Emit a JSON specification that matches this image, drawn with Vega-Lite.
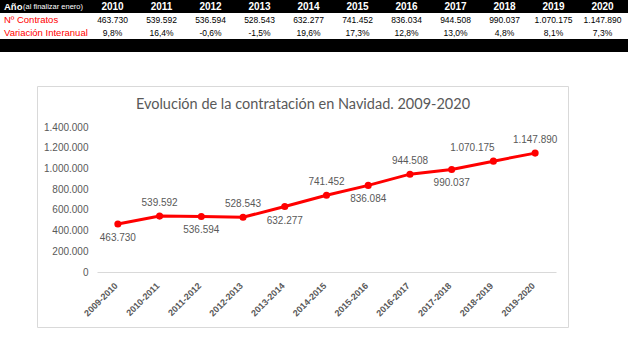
{
  "$schema": "https://vega.github.io/schema/vega-lite/v6.json",
  "width": 628,
  "height": 351,
  "autosize": "none",
  "padding": 0,
  "background": "white",
  "config": {
    "view": {"stroke": null},
    "font": "Liberation Sans",
    "locale": {"number": {"decimal": ",", "thousands": ".", "grouping": [3], "currency": ["", " €"], "minus": "-"}}
  },
  "title": {
    "text": "Evolución de la contratación en Navidad. 2009-2020",
    "anchor": "middle",
    "font": "Lato",
    "fontSize": 14.5,
    "fontWeight": "normal",
    "color": "#595959",
    "baseline": "middle",
    "offset": 0,
    "dy": 119,
    "dx": -11
  },
  "datasets": {
    "filas": [
      {"fila": "Año"},
      {"fila": "Nº Contratos"},
      {"fila": "Variación Interanual"},
      {"fila": "pie"}
    ],
    "tabla": [
      {"anio": "2010", "contratos": 463730, "variacion": 0.098},
      {"anio": "2011", "contratos": 539592, "variacion": 0.164},
      {"anio": "2012", "contratos": 536594, "variacion": -0.006},
      {"anio": "2013", "contratos": 528543, "variacion": -0.015},
      {"anio": "2014", "contratos": 632277, "variacion": 0.196},
      {"anio": "2015", "contratos": 741452, "variacion": 0.173},
      {"anio": "2016", "contratos": 836034, "variacion": 0.128},
      {"anio": "2017", "contratos": 944508, "variacion": 0.130},
      {"anio": "2018", "contratos": 990037, "variacion": 0.048},
      {"anio": "2019", "contratos": 1070175, "variacion": 0.081},
      {"anio": "2020", "contratos": 1147890, "variacion": 0.073}
    ],
    "serie": [
      {"periodo": "2009-2010", "contratos": 463730},
      {"periodo": "2010-2011", "contratos": 539592},
      {"periodo": "2011-2012", "contratos": 536594},
      {"periodo": "2012-2013", "contratos": 528543},
      {"periodo": "2013-2014", "contratos": 632277},
      {"periodo": "2014-2015", "contratos": 741452},
      {"periodo": "2015-2016", "contratos": 836084},
      {"periodo": "2016-2017", "contratos": 944508},
      {"periodo": "2017-2018", "contratos": 990037},
      {"periodo": "2018-2019", "contratos": 1070175},
      {"periodo": "2019-2020", "contratos": 1147890}
    ]
  },
  "layer": [
    {
      "layer": [
        {
          "data": {"name": "filas"},
          "mark": {"type": "rect"},
          "encoding": {
            "y": {"field": "fila", "type": "nominal", "sort": null, "axis": null,
                  "scale": {"type": "band", "domain": ["Año", "Nº Contratos", "Variación Interanual", "pie"], "range": [0, 52], "paddingInner": 0, "paddingOuter": 0}},
            "fill": {"field": "fila", "type": "nominal", "legend": null,
                     "scale": {"domain": ["Año", "Nº Contratos", "Variación Interanual", "pie"], "range": ["#000000", "#ffffff", "#ffffff", "#000000"]}}
          }
        },
        {
          "data": {"name": "tabla"},
          "mark": {"type": "text", "font": "Liberation Sans", "fontWeight": "bold", "fontSize": 10, "color": "#ffffff", "baseline": "middle"},
          "encoding": {
            "x": {"field": "anio", "type": "nominal", "sort": null, "axis": null,
                  "scale": {"type": "band", "range": [88, 627], "paddingInner": 0, "paddingOuter": 0}},
            "y": {"datum": "Año", "type": "nominal"},
            "text": {"field": "anio"}
          }
        },
        {
          "data": {"name": "tabla"},
          "mark": {"type": "text", "font": "Liberation Sans", "fontSize": 8.5, "color": "#000000", "baseline": "middle"},
          "encoding": {
            "x": {"field": "anio", "type": "nominal", "sort": null},
            "y": {"datum": "Nº Contratos", "type": "nominal"},
            "text": {"field": "contratos", "type": "quantitative", "format": ","}
          }
        },
        {
          "data": {"name": "tabla"},
          "mark": {"type": "text", "font": "Liberation Sans", "fontSize": 8.5, "color": "#000000", "baseline": "middle"},
          "encoding": {
            "x": {"field": "anio", "type": "nominal", "sort": null},
            "y": {"datum": "Variación Interanual", "type": "nominal"},
            "text": {"field": "variacion", "type": "quantitative", "format": ".1%"}
          }
        },
        {
          "data": {"values": [{"etiqueta": "Año"}]},
          "mark": {"type": "text", "font": "Liberation Sans", "fontWeight": "bold", "fontSize": 9.5, "color": "#ffffff", "align": "left", "baseline": "middle"},
          "encoding": {
            "x": {"value": 4},
            "y": {"datum": "Año", "type": "nominal"},
            "text": {"field": "etiqueta"}
          }
        },
        {
          "data": {"values": [{"etiqueta": "(al finalizar enero)"}]},
          "mark": {"type": "text", "font": "Liberation Sans", "fontSize": 7.5, "color": "#ffffff", "align": "left", "baseline": "middle"},
          "encoding": {
            "x": {"value": 23},
            "y": {"datum": "Año", "type": "nominal"},
            "text": {"field": "etiqueta"}
          }
        },
        {
          "data": {"values": [{"fila": "Nº Contratos"}, {"fila": "Variación Interanual"}]},
          "mark": {"type": "text", "font": "Liberation Sans", "fontSize": 9.5, "color": "#ff0000", "align": "left", "baseline": "middle"},
          "encoding": {
            "x": {"value": 4},
            "y": {"field": "fila", "type": "nominal"},
            "text": {"field": "fila"}
          }
        }
      ]
    },
    {
      "layer": [
        {
          "data": {"values": [{"marco": "grafico"}]},
          "mark": {"type": "rect", "fill": null, "stroke": "#d9d9d9", "strokeWidth": 1},
          "encoding": {
            "x": {"value": 37.5},
            "x2": {"value": 568.5},
            "y": {"value": 86.5},
            "y2": {"value": 327.5}
          }
        },
        {
          "data": {"name": "serie"},
          "mark": {"type": "line", "color": "#ff0000", "strokeWidth": 3},
          "encoding": {
            "x": {"field": "periodo", "type": "ordinal", "sort": null,
                  "scale": {"type": "point", "range": [97, 556], "padding": 0.5},
                  "axis": {"orient": "bottom", "offset": -79, "title": null, "ticks": false, "domainColor": "#d9d9d9", "domainWidth": 1,
                           "labelAngle": -45, "labelFont": "Liberation Sans", "labelFontWeight": "bold", "labelFontSize": 9, "labelColor": "#595959", "labelPadding": 9, "labelOffset": -5}},
            "y": {"field": "contratos", "type": "quantitative",
                  "scale": {"domain": [0, 1400000], "range": [272, 127], "nice": false, "zero": true},
                  "axis": {"orient": "left", "offset": -91, "title": null, "ticks": false, "domain": false, "grid": false,
                           "values": [0, 200000, 400000, 600000, 800000, 1000000, 1200000, 1400000], "format": ",d",
                           "labelFont": "Liberation Sans", "labelFontSize": 10, "labelColor": "#595959", "labelPadding": 3}}
          }
        },
        {
          "data": {"name": "serie"},
          "mark": {"type": "point", "filled": true, "color": "#ff0000", "size": 50, "opacity": 1},
          "encoding": {
            "x": {"field": "periodo", "type": "ordinal", "sort": null},
            "y": {"field": "contratos", "type": "quantitative"}
          }
        },
        {
          "data": {"name": "serie"},
          "transform": [{"filter": {"field": "periodo", "oneOf": ["2009-2010", "2011-2012", "2013-2014", "2015-2016", "2017-2018"]}}],
          "mark": {"type": "text", "font": "Liberation Sans", "fontSize": 10, "color": "#595959", "baseline": "middle", "dy": 14},
          "encoding": {
            "x": {"field": "periodo", "type": "ordinal", "sort": null},
            "y": {"field": "contratos", "type": "quantitative"},
            "text": {"field": "contratos", "type": "quantitative", "format": ","}
          }
        },
        {
          "data": {"name": "serie"},
          "transform": [{"filter": {"field": "periodo", "oneOf": ["2010-2011", "2012-2013", "2014-2015", "2016-2017", "2019-2020"]}}],
          "mark": {"type": "text", "font": "Liberation Sans", "fontSize": 10, "color": "#595959", "baseline": "middle", "dy": -13},
          "encoding": {
            "x": {"field": "periodo", "type": "ordinal", "sort": null},
            "y": {"field": "contratos", "type": "quantitative"},
            "text": {"field": "contratos", "type": "quantitative", "format": ","}
          }
        },
        {
          "data": {"name": "serie"},
          "transform": [{"filter": {"field": "periodo", "oneOf": ["2018-2019"]}}],
          "mark": {"type": "text", "font": "Liberation Sans", "fontSize": 10, "color": "#595959", "baseline": "middle", "dy": -13, "dx": -21},
          "encoding": {
            "x": {"field": "periodo", "type": "ordinal", "sort": null},
            "y": {"field": "contratos", "type": "quantitative"},
            "text": {"field": "contratos", "type": "quantitative", "format": ","}
          }
        }
      ]
    }
  ],
  "resolve": {"scale": {"x": "independent", "y": "independent", "fill": "independent", "color": "independent"}, "axis": {"x": "independent", "y": "independent"}}
}
